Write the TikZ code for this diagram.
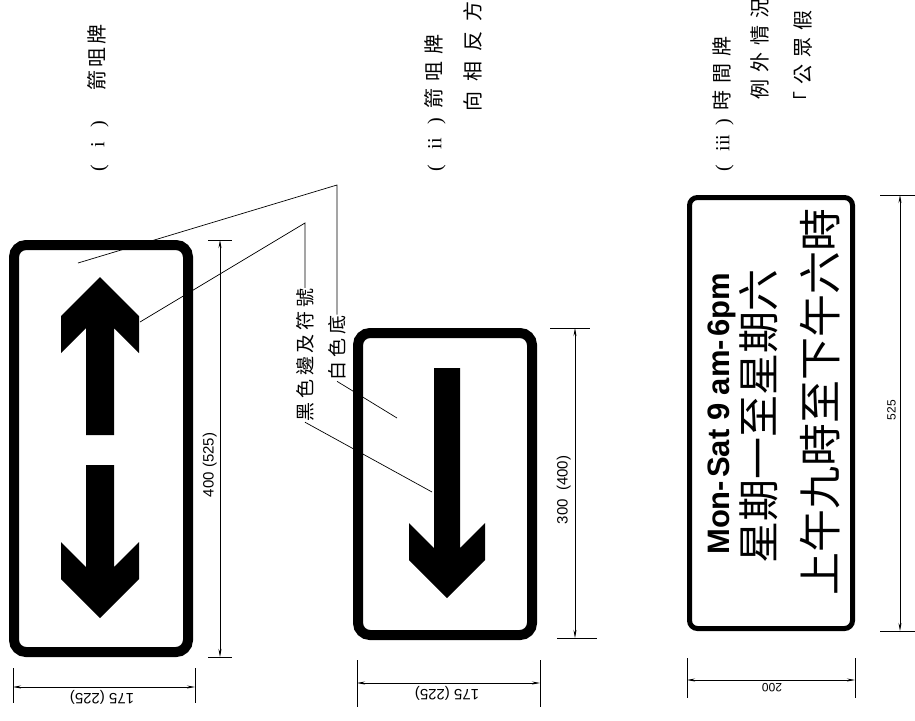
\documentclass[tikz,border=0pt]{standalone}
\usepackage{fontspec}
\setmainfont{Liberation Sans}
\newfontfamily\cjk{Noto Sans CJK TC}
\newfontfamily\cjkA{Noto Sans CJK TC}[LetterSpace=17]
\newfontfamily\cjkB{Noto Sans CJK TC}[LetterSpace=35]
\newfontfamily\cjkC{Noto Sans CJK TC}[LetterSpace=50]
\newfontfamily\cjkL{Noto Sans CJK TC}[LetterSpace=19]
\newfontfamily\romserif{Liberation Serif}
\usetikzlibrary{arrows.meta,calc}
\begin{document}
\begin{tikzpicture}[x=1pt,y=1pt,
  sign/.style={draw, rectangle, line width=10pt, rounded corners=12pt, inner sep=0pt},
  ttlA/.style={rotate=90, anchor=west, inner sep=0pt, font=\cjkA\fontsize{20}{20}\selectfont},
  ttlB/.style={rotate=90, anchor=west, inner sep=0pt, font=\cjkB\fontsize{20}{20}\selectfont},
  ttlC/.style={rotate=90, anchor=west, inner sep=0pt, font=\cjkC\fontsize{20}{20}\selectfont},
  lbl/.style={rotate=90, inner sep=1pt, font=\cjkL\fontsize{19}{19}\selectfont},
  tickln/.style={line width=0.6pt},
  dimln/.style={line width=0.6pt, {Stealth[length=8pt,width=3pt]}-{Stealth[length=8pt,width=3pt]}},
  dlbl/.style={inner sep=1pt, font=\fontsize{15}{15}\selectfont},
  leader/.style={line width=0.7pt},
  signtxt/.style={rotate=90, inner sep=0pt}]
\useasboundingbox (0,0) rectangle (915,-720);
\clip (0,0) rectangle (915,-720);
\fill[white] (0,0) rectangle (915,-720);

% ---------- titles ----------
\node[ttlA] (t1) at (98,-172) {{\romserif(\hspace{18pt}i\hspace{14pt})}\hspace{30pt}箭咀牌};
\node[ttlB] (t2a) at (435,-172) {{\romserif(\hspace{16pt}ii\hspace{14pt})}\hspace{9pt}箭咀牌};
\node[ttlC] (t2b) at (473,-112) {向相反方};
\node[ttlB] (t3a) at (723,-172) {{\romserif(\hspace{14pt}iii\hspace{9pt})}\hspace{8pt}時間牌};
\node[ttlB] (t3b) at (760,-100) {例外情況};
\node[ttlB] (t3c) at (803,-112) {「公眾假};

% ---------- sign 1 ----------
\node[sign, minimum width=174pt, minimum height=407pt] (s1) at (101,-448.5) {};
\fill (86,-435) -- (86,-328) -- (61,-353) -- (61,-316) -- (100,-277) -- (139,-316)
  -- (139,-353) -- (114,-328) -- (114,-435) -- cycle;
\fill (86,-465) -- (86,-567) -- (61,-542) -- (61,-579) -- (100,-618) -- (139,-579)
  -- (139,-542) -- (114,-567) -- (114,-465) -- cycle;

% ---------- sign 2 ----------
\node[sign, minimum width=174pt, minimum height=302pt] (s2) at (445,-484) {};
\fill (434,-368) -- (434,-548) -- (409,-523) -- (409,-560) -- (447,-598) -- (485,-560)
  -- (485,-523) -- (460,-548) -- (460,-368) -- cycle;

% ---------- sign 3 ----------
\node[sign, line width=5pt, rounded corners=8pt, minimum width=163pt, minimum height=431pt] (s3) at (771,-413) {};
\node[signtxt, font=\bfseries\fontsize{31}{31}\selectfont] (m1) at (722,-414) {Mon-\hspace{3pt}Sat 9 am-\hspace{3pt}6pm};
\node[signtxt, font=\cjk\fontsize{42}{42}\selectfont] (m2) at (759,-416) {星期一至星期六};
\node[signtxt, font=\cjk\fontsize{43}{43}\selectfont] (m3) at (820,-402) {上午九時至下午六時};

% ---------- callout labels ----------
\node[lbl] (lb) at (305,-355) {黑色邊及符號};
\node[lbl] (lw) at (337,-348) {白色底};
\coordinate (bk) at (0,-223);
\coordinate (wk) at (0,-185);
\coordinate (b1) at (140,-322);
\coordinate (w1) at (78,-263);
\coordinate (b2) at (432,-492);
\coordinate (w2) at (397,-418);
\draw[leader] (lb.east) -- (lb.east |- bk) -- (b1);
\draw[leader] (lw.east) -- (lw.east |- wk) -- (w1);
\draw[leader] (lb.west) -- (b2);
\draw[leader] (lw.west) -- (w2);

% ---------- dimensions sign 1 ----------
\coordinate (a1) at (220,-240);
\coordinate (a2) at (220,-657);
\draw[tickln] (a1) ++(-12,0) -- ++(24,0);
\draw[tickln] (a2) ++(-12,0) -- ++(24,0);
\draw[dimln] (a1) -- (a2);
\node[dlbl, rotate=90, anchor=south] (a3) at (218,-465) {400 (525)};
\coordinate (h1) at (13,-687);
\coordinate (h2) at (195,-687);
\draw[tickln] (h1) ++(0,19) -- ++(0,-35);
\draw[tickln] (h2) ++(0,19) -- ++(0,-35);
\draw[dimln] (h1) -- (h2);
\node[dlbl, rotate=180, anchor=south] (h3) at (102,-689) {175 (225)};

% ---------- dimensions sign 2 ----------
\coordinate (c1) at (575,-328);
\coordinate (c2) at (575,-638);
\draw[tickln] (c1) ++(-25,0) -- ++(40,0);
\draw[tickln] (c2) ++(-18,0) -- ++(40,0);
\draw[dimln] (c1) -- (c2);
\node[dlbl, rotate=90, anchor=south] (c3) at (572,-490) {300\ \ (400)};
\coordinate (g1) at (357,-683);
\coordinate (g2) at (540,-683);
\draw[tickln] (g1) ++(0,23) -- ++(0,-47);
\draw[tickln] (g2) ++(0,23) -- ++(0,-47);
\draw[dimln] (g1) -- (g2);
\node[dlbl, rotate=180, anchor=south] (g3) at (447,-685) {175 (225)};

% ---------- dimensions sign 3 ----------
\coordinate (e1) at (900,-195);
\coordinate (e2) at (900,-631);
\draw[tickln] (e1) ++(-20,0) -- ++(35,0);
\draw[tickln] (e2) ++(-20,0) -- ++(35,0);
\draw[dimln] (e1) -- (e2);
\node[dlbl, rotate=90, anchor=south, font=\fontsize{12}{12}\selectfont] (e3) at (897,-410) {525};
\coordinate (f1) at (687,-680);
\coordinate (f2) at (855,-680);
\draw[tickln] (f1) ++(0,22) -- ++(0,-40);
\draw[tickln] (f2) ++(0,22) -- ++(0,-40);
\draw[dimln] (f1) -- (f2);
\node[dlbl, rotate=180, anchor=south, font=\fontsize{12}{12}\selectfont] (f3) at (772,-682) {200};
\end{tikzpicture}
\end{document}
